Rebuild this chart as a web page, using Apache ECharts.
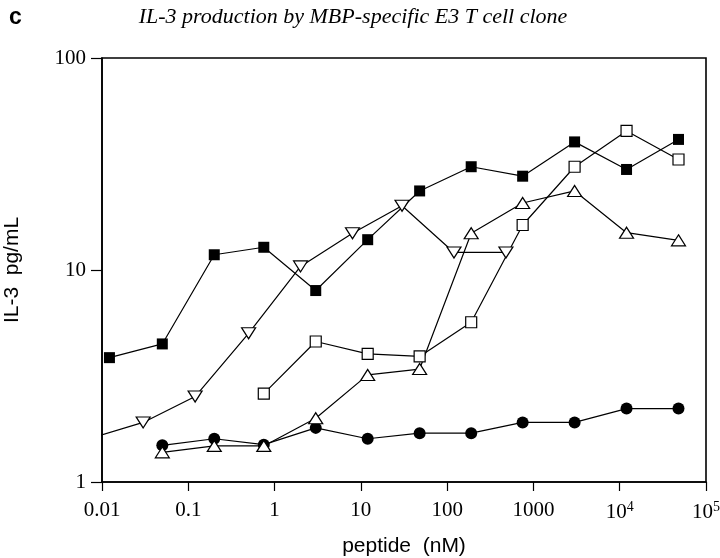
<!DOCTYPE html>
<html>
<head>
<meta charset="utf-8">
<title>IL-3 production</title>
<script src="https://cdn.jsdelivr.net/npm/echarts@6/dist/echarts.min.js"></script>
<style>
  html, body { margin: 0; padding: 0; background: #fff; }
  #chart { width: 720px; height: 558px; }
</style>
</head>
<body>
<div id="chart"></div>
<script>
// peptide doses (nM), 4-fold dilutions
const dosesA = [0.0122, 0.05, 0.2, 0.75, 3, 12, 48, 190, 750, 3000, 12000, 48000];
const dosesB = [0.0075, 0.03, 0.12, 0.5, 2, 8, 30, 120, 480];

// IL-3 pg/mL per peptide
const filledSquare = [3.86, 4.48, 11.8, 12.8, 8.0, 13.9, 23.6, 30.7, 27.7, 40.2, 29.8, 41.3];
const filledCircle = [1.49, 1.6, 1.5, 1.8, 1.6, 1.7, 1.7, 1.91, 1.91, 2.22, 2.22];
const openTriUp = [1.38, 1.48, 1.48, 2.0, 3.2, 3.41, 14.9, 20.7, 23.6, 15.0, 13.8];
const openSquare = [2.61, 4.6, 4.02, 3.91, 5.67, 16.3, 30.7, 45.3, 33.2];
const openTriDown = [1.61, 1.91, 2.53, 5.03, 10.4, 14.9, 20.1, 12.1, 12.1];

const xTickLabels = ['0.01', '0.1', '1', '10', '100', '1000', '{b|10}{s|4}', '{b|10}{s|5}'];
const yTickLabels = ['1', '10', '100'];

const xMin = 0.01, xMax = 1e5;

// pair doses with values, starting from the end of the dose list
function pairs(doses, vals) {
  const off = doses.length - vals.length;
  return vals.map(function (v, i) {
    const x = doses[i + off];
    if (x < xMin) return { value: [x, v], symbol: 'none' };
    return [x, v];
  });
}

function mkSeries(data, symbol, size, filled, rotate) {
  return {
    type: 'line',
    data: data,
    symbol: symbol,
    symbolSize: size,
    symbolRotate: rotate || 0,
    showSymbol: true,
    clip: true,
    lineStyle: { color: '#000', width: 1.2 },
    itemStyle: filled
      ? { color: '#000', borderColor: '#000', borderWidth: 0 }
      : { color: '#fff', borderColor: '#000', borderWidth: 1.2 },
    emphasis: { disabled: true },
    animation: false
  };
}

const chart = echarts.init(document.getElementById('chart'));
chart.setOption({
  backgroundColor: '#fff',
  animation: false,
  title: [
    {
      text: 'c',
      left: 4, top: 1,
      textStyle: { fontFamily: 'Liberation Sans', fontWeight: 'bold', fontSize: 23, color: '#000' }
    },
    {
      text: 'IL-3 production by MBP-specific E3 T cell clone',
      left: 348, top: 1, textAlign: 'center',
      textStyle: { fontFamily: 'Liberation Serif', fontStyle: 'italic', fontWeight: 'normal', fontSize: 22, color: '#000' }
    }
  ],
  grid: {
    left: 102, right: 14, top: 58, bottom: 76,
    outerBoundsMode: 'none',
    containLabel: false,
    show: true, borderColor: '#000', borderWidth: 1.6
  },
  xAxis: {
    type: 'log',
    logBase: 10,
    min: xMin,
    max: xMax,
    interval: 1,
    splitNumber: 7,
    name: 'peptide  (nM)',
    nameLocation: 'middle',
    nameGap: 54,
    nameTextStyle: { fontFamily: 'Liberation Sans', fontSize: 21, color: '#000' },
    axisLine: { lineStyle: { color: '#000', width: 1.6 } },
    axisTick: { inside: false, length: 9, lineStyle: { color: '#000', width: 1.2 } },
    minorTick: { show: false },
    splitLine: { show: false },
    axisLabel: {
      margin: 18,
      color: '#000',
      fontFamily: 'Liberation Serif',
      fontSize: 21,
      formatter: function (v) {
        const k = Math.round(Math.log10(v)) + 2;
        return xTickLabels[k] || '';
      },
      rich: {
        b: { fontFamily: 'Liberation Serif', fontSize: 21, lineHeight: 23, color: '#000', verticalAlign: 'bottom' },
        s: { fontFamily: 'Liberation Serif', fontSize: 14, lineHeight: 14, color: '#000', verticalAlign: 'top' }
      }
    }
  },
  yAxis: {
    type: 'log',
    logBase: 10,
    min: 1,
    max: 100,
    interval: 1,
    name: 'IL-3  pg/mL',
    nameLocation: 'middle',
    nameGap: 79,
    nameTextStyle: { fontFamily: 'Liberation Sans', fontSize: 21, color: '#000' },
    axisLine: { show: true, lineStyle: { color: '#000', width: 1.6 } },
    axisTick: { show: true, inside: false, length: 11, lineStyle: { color: '#000', width: 1.2 } },
    splitLine: { show: false },
    axisLabel: {
      margin: 16,
      color: '#000',
      fontFamily: 'Liberation Serif',
      fontSize: 21,
      formatter: function (v) {
        const k = Math.round(Math.log10(v));
        return yTickLabels[k] || '';
      }
    }
  },
  series: [
    mkSeries(pairs(dosesA, filledCircle), 'circle', 12, true),
    mkSeries(pairs(dosesA, openTriUp), 'triangle', [14, 11], false),
    mkSeries(pairs(dosesA, openSquare), 'rect', 11, false),
    mkSeries(pairs(dosesB, openTriDown), 'triangle', [14, 11], false, 180),
    mkSeries(pairs(dosesA, filledSquare), 'rect', 11, true)
  ]
});
</script>
</body>
</html>
